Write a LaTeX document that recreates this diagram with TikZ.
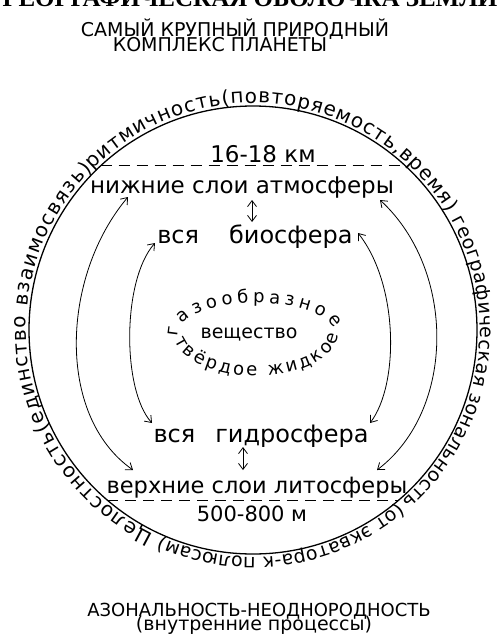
\documentclass[tikz,border=0pt]{standalone}
\usepackage{fontspec}
\setmainfont{DejaVu Sans}
\newfontfamily\headfont{Liberation Serif}
\usetikzlibrary{arrows.meta,decorations.text}

\newcommand\ringfont{\fontsize{20}{21}\selectfont}
\newcommand\ringfontb{\fontsize{19}{20}\selectfont}
\newcommand\innerfont{\fontsize{18}{20}\selectfont}

\begin{document}
\begin{tikzpicture}[
  x=1pt, y=1pt,
  every node/.style={inner sep=0pt, anchor=base, text=black},
  head/.style={font=\headfont\bfseries\fontsize{25}{27}\selectfont},
  caps/.style={font=\fontsize{19}{21}\selectfont},
  lbl/.style={font=\fontsize{23}{25}\selectfont},
  mid/.style={font=\innerfont},
  rim/.style={draw=black, line width=1.3pt},
  layer/.style={draw=black, line width=0.9pt, dash pattern=on 11pt off 7pt},
  link/.style={draw=black, line width=0.8pt,
    {Straight Barb[length=6pt,width=9pt]}-{Straight Barb[length=6pt,width=9pt]}},
  ringtext/.style={decorate, decoration={text along path,
    text align={fit to path}, text={#1}}},
]
\useasboundingbox (0,0) rectangle (501,-637);
\fill[white] (0,0) rectangle (501,-637);

% ---- Headings ----
\node (head)   at (250,-6)   [head] {ГЕОГРАФИЧЕСКАЯ ОБОЛОЧКА ЗЕМЛИ};
\node (sub1)   at (235,-36)  [caps] {САМЫЙ КРУПНЫЙ ПРИРОДНЫЙ};
\node (sub2)   at (220,-51)  [caps] {КОМПЛЕКС ПЛАНЕТЫ};

% ---- The envelope ----
\coordinate (c) at (253,-330);
\draw[rim] (c) circle[radius=224];
\path[ringtext={|\ringfont|Целостность(единство взаимосвязь)}]
  ([shift={(244:227)}]c) arc[start angle=244, end angle=135, radius=227];
\path[ringtext={|\ringfont|ритмичность(повторяемость,время)}]
  ([shift={(135:227)}]c) arc[start angle=135, end angle=31, radius=227];
\path[ringtext={|\ringfontb|географическая зональность}]
  ([shift={(29:227)}]c) arc[start angle=29, end angle=-49, radius=227];
\path[ringtext={|\ringfontb|(от экватора-к полюсам)}]
  ([shift={(-50:227)}]c) arc[start angle=-50, end angle=-114, radius=227];

% ---- Layers ----
\draw[layer] ([shift={(132.9:224)}]c) -- ([shift={(47.1:224)}]c);
\draw[layer] ([shift={(-130.6:224)}]c) -- ([shift={(-49.4:224)}]c);

\node (top)    at (263,-162) [lbl] {16-18 км};
\node (atm)    at (242,-193) [lbl] {нижние слои атмосферы};
\node (bio)    at (255,-243) [lbl,font=\fontsize{24}{26}\selectfont] {вся\hspace{30pt}биосфера};
\node (hyd)    at (261,-442) [lbl,font=\fontsize{24}{26}\selectfont] {вся\hspace{20pt}гидросфера};
\node (lit)    at (257,-493) [lbl,font=\fontsize{22.5}{24}\selectfont] {верхние слои литосферы};
\node (low)    at (252,-521) [lbl,font=\fontsize{21}{23}\selectfont] {500-800 м};

% ---- Substance in the middle ----
\coordinate (ell) at (256,-333);
\node (sub)    at (249,-338) [mid,font=\fontsize{19}{21}\selectfont] {вещество};
\path[ringtext={|\innerfont|газообразное}]
  ([shift={(186:78 and 30)}]ell) arc[start angle=186, end angle=8, x radius=78, y radius=30];
\path[ringtext={|\innerfont|твёрдое жидкое}]
  ([shift={(190:82 and 43)}]ell) arc[start angle=190, end angle=358, x radius=82, y radius=43];

% ---- Bottom notes ----
\node (azon)   at (259,-616) [caps,font=\fontsize{18}{20}\selectfont] {АЗОНАЛЬНОСТЬ-НЕОДНОРОДНОСТЬ};
\node (proc)   at (254,-630) [caps] {(внутренние процессы)};

% ---- Arrow ends ----
\coordinate (aoT)  at (128,-197);
\coordinate (aoB)  at (133,-470);
\coordinate (ailT) at (155,-243);
\coordinate (ailB) at (152,-423);
\coordinate (airT) at (358,-233);
\coordinate (airB) at (370,-423);
\coordinate (aorT) at (380,-200);
\coordinate (aorB) at (377,-470);
\coordinate (upT)  at (252,-200);
\coordinate (upB)  at (252,-222);
\coordinate (dnT)  at (243,-447);
\coordinate (dnB)  at (243,-470);

% ---- Arrows ----
\draw[link] (aoT)  .. controls (62,-275)  and (55,-415)  .. (aoB);
\draw[link] (ailT) .. controls (122,-280) and (122,-390) .. (ailB);
\draw[link] (airT) .. controls (399,-285) and (399,-385) .. (airB);
\draw[link] (aorT) .. controls (456,-270) and (456,-410) .. (aorB);
\foreach \a/\b in {upT/upB, dnT/dnB}
  \draw[link] (\a) -- (\b);

\end{tikzpicture}
\end{document}
